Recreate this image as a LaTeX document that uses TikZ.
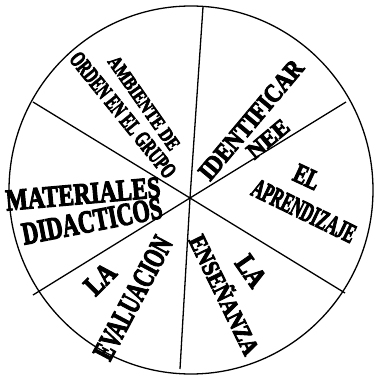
\documentclass[tikz,border=0pt]{standalone}
\usepackage{fontspec}
\setmainfont{Liberation Serif}
\newfontfamily\heavy{Liberation Serif}[UprightFont={* Bold}, FakeBold=4]
\usepackage{graphicx}
\tikzset{
  wl/.style={inner sep=0pt, outer sep=0pt},
  spoke/.style={line width=1.3pt},
  rim/.style={line width=1.3pt},
}
\newcommand{\wa}[3]{\resizebox{#1pt}{#2pt}{\heavy #3}}
\begin{document}
\begin{tikzpicture}[x=1pt,y=-1pt]
\useasboundingbox (0,0) rectangle (375,377);
\fill[white] (0,0) rectangle (375,377);
\draw[rim] (191,190) ellipse[x radius=182pt, y radius=184pt];
\coordinate (c) at (190,198);
\coordinate (t) at (203,7);
\coordinate (b) at (180,369);
\coordinate (ur) at (346,102);
\coordinate (lr) at (345,293);
\coordinate (ul) at (33,102);
\coordinate (ll) at (33,295);
\foreach \p in {t,b,ur,lr,ul,ll} \draw[spoke] (c) -- (\p);
\node[wl, rotate=-55] (amb) at (144,103) {\wa{110}{13}{AMBIENTE DE}};
\node[wl, rotate=-51] (ord) at (123,115) {\wa{155}{15}{ORDEN EN EL GRUPO}};
\node[wl, rotate=50] (ide) at (251,120) {\wa{148}{17}{IDENTIFICAR}};
\node[wl, rotate=40] (nee) at (268,139) {\wa{48}{15}{NEE}};
\node[wl, rotate=-25] (el) at (307,177) {\wa{26}{18}{EL}};
\node[wl, rotate=-26] (apr) at (304,211) {\wa{112}{18}{APRENDIZAJE}};
\node[wl, rotate=5] (mat) at (83,194) {\wa{155}{20}{MATERIALES}};
\node[wl, rotate=11] (did) at (92,221) {\wa{142}{21}{DIDACTICOS}};
\node[wl, rotate=45] (la1) at (100,279) {\wa{32}{19}{LA}};
\node[wl, rotate=62] (eva) at (133,298) {\wa{135}{20}{EVALUACION}};
\node[wl, rotate=-55] (la2) at (251,271) {\wa{32}{19}{LA}};
\node[wl, rotate=-64] (ens) at (226,294) {\wa{130}{21}{ENSEÑANZA}};
\end{tikzpicture}
\end{document}
